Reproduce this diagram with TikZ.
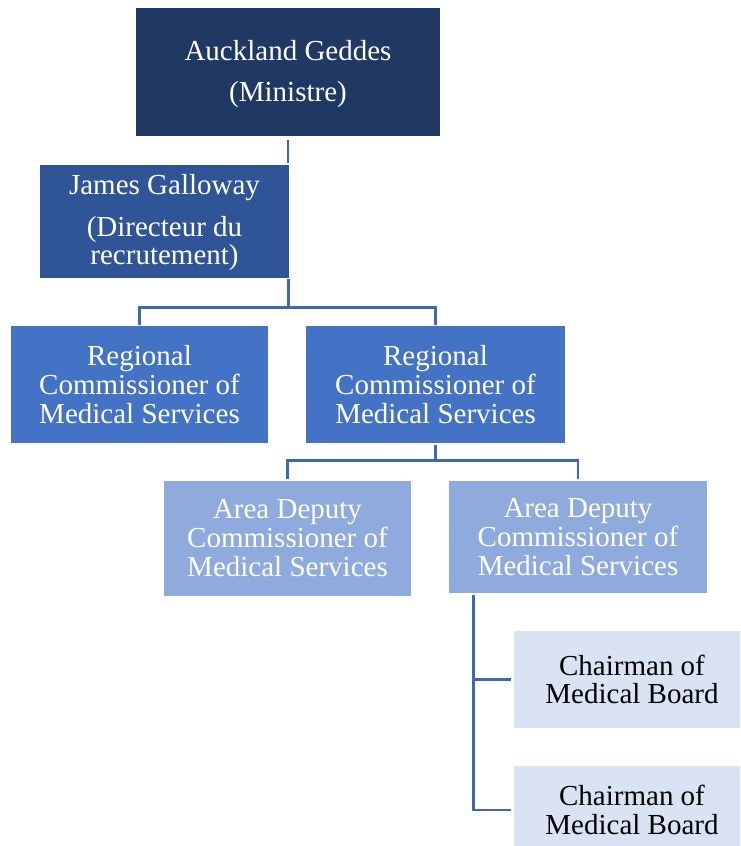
\documentclass[tikz,border=0pt]{standalone}
\usepackage{fontspec}
\setmainfont{Liberation Serif}
\definecolor{cA}{HTML}{203864}
\definecolor{cB}{HTML}{2F5597}
\definecolor{cC}{HTML}{4472C4}
\definecolor{cD}{HTML}{8FAADC}
\definecolor{cE}{HTML}{DAE3F3}
\definecolor{lineC}{HTML}{3F67B3}
\begin{document}
\begin{tikzpicture}[x=1pt,y=-1pt,
  box/.style={rectangle, inner sep=0pt, align=center, draw=none,
    font=\fontsize{29}{29}\selectfont, text=white},
  tight/.style={font=\fontsize{29}{28.5}\selectfont},
  conn/.style={draw=lineC, line width=2.8pt}]
\useasboundingbox (0,0) rectangle (740,846);
\clip (0,0) rectangle (740,846);
\fill[white] (0,0) rectangle (740,846);
\node[box, tight, fill=cA, minimum width=304pt, minimum height=128pt] (b1) at (288,72) {\rule{0pt}{24pt}Auckland Geddes\\[12pt](Ministre)};
\node[box, tight, fill=cB, minimum width=249pt, minimum height=113pt] (b2) at (164.5,221.5) {\rule{0pt}{23pt}James Galloway\\[13pt](Directeur du\\recrutement)};
\node[box, fill=cC, minimum width=257pt, minimum height=117pt] (b3a) at (139.5,384.5) {Regional\\Commissioner of\\Medical Services};
\node[box, fill=cC, minimum width=259pt, minimum height=117pt] (b3b) at (435.5,384.5) {Regional\\Commissioner of\\Medical Services};
\node[box, fill=cD, minimum width=247pt, minimum height=115pt] (b4a) at (287.5,538.5) {Area Deputy\\Commissioner of\\Medical Services};
\node[box, fill=cD, minimum width=258pt, minimum height=112pt] (b4b) at (578,537) {Area Deputy\\Commissioner of\\Medical Services};
\node[box, tight, fill=cE, text=black, minimum width=236pt, minimum height=97pt] (b5a) at (632,679.5) {Chairman of\\Medical Board};
\node[box, tight, fill=cE, text=black, minimum width=236pt, minimum height=88pt] (b5b) at (632,810) {Chairman of\\Medical Board};
% connectors
\draw[conn] ([yshift=-4pt]b1.south) coordinate (a0) -- ([yshift=2pt]a0 |- b2.north);
\coordinate (j1) at ([xshift=-1pt,yshift=-29pt]b2.south east);
\draw[conn] ([xshift=-1pt,yshift=-1pt]b2.south east) -- (j1);
\draw[conn] (j1) -| ([yshift=1pt]b3a.north);
\draw[conn] (j1) -| ([yshift=1pt]b3b.north);
\coordinate (j2) at ([yshift=-17pt]b3b.south);
\draw[conn] ([yshift=-2pt]b3b.south) -- (j2);
\draw[conn] (j2) -| ([yshift=2pt]b4a.north);
\draw[conn] (j2) -| ([yshift=2pt]b4b.north);
\coordinate (t) at ([xshift=25pt,yshift=-2pt]b4b.south west);
\draw[conn] (t) |- ([xshift=-3pt]b5a.west);
\draw[conn] (t) |- ([xshift=-3pt]b5b.west);
\end{tikzpicture}
\end{document}
